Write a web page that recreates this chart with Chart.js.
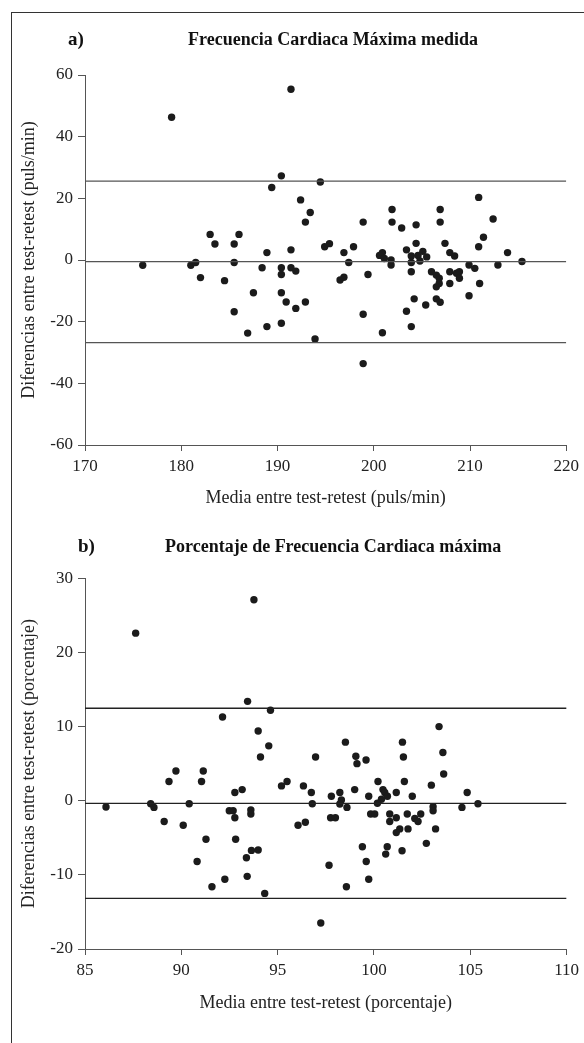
<!DOCTYPE html>
<html>
<head>
<meta charset="utf-8">
<script src="https://cdn.jsdelivr.net/npm/chart.js@4/dist/chart.umd.min.js"></script>
<style>
    body { margin: 0; background: #fff; }
    #frame { position: absolute; left: 11px; top: 12px; width: 600px; height: 1100px; border-left: 1px solid #333; border-top: 1px solid #333; }
    .box { position: absolute; left: 0; width: 584px; }
</style>
</head>
<body>
<div id="frame"></div>
<div class="box" style="top:0;height:520px"><canvas id="chartA"></canvas></div>
<div class="box" style="top:520px;height:523px"><canvas id="chartB"></canvas></div>
<script>
// a) Frecuencia cardiaca maxima medida (puls/min)
const meanA = [176.0, 179.0, 181.0, 181.5, 182.0, 183.0, 183.5, 184.5, 185.5, 185.5, 185.5, 186.0, 186.9, 187.5, 188.4,
    188.9, 188.9, 189.4, 190.4, 190.4, 190.4, 190.4, 190.4, 190.9, 191.4, 191.4, 191.4, 191.9, 191.9, 192.4,
    192.9, 192.9, 193.4, 193.9, 194.45, 194.9, 195.4, 196.5, 196.9, 196.9, 197.4, 197.9, 198.9, 198.9, 198.9,
    199.4, 200.6, 200.9, 200.9, 201.1, 201.8, 201.8, 201.9, 201.9, 202.9, 203.4, 203.4, 203.9, 203.9, 203.9,
    203.9, 204.2, 204.4, 204.4, 204.6, 205.1, 205.5, 204.8, 205.4, 206.0, 206.5, 206.8, 206.8, 206.5, 206.5,
    206.9, 206.9, 206.9, 207.4, 207.9, 208.4, 207.9, 207.9, 208.6, 208.9, 208.9, 209.9, 210.5, 209.9, 210.9,
    210.9, 211.0, 211.4, 212.4, 212.9, 213.9, 215.4];
const diffA = [-1.7, 46.3, -1.7, -0.8, -5.7, 8.3, 5.2, -6.7, 5.2, -0.8, -16.8, 8.3, -23.7, -10.6, -2.5,
    2.4, -21.6, 23.5, 27.3, -2.5, -4.7, -10.6, -20.5, -13.6, 55.4, 3.3, -2.5, -3.6, -15.7, 19.5,
    12.3, -13.6, 15.4, -25.6, 25.3, 4.3, 5.3, -6.5, -5.6, 2.4, -0.8, 4.3, 12.3, -17.6, -33.6,
    -4.7, 1.5, 2.4, -23.6, 0.5, 0.0, -1.6, 16.4, 12.3, 10.4, 3.3, -16.6, 1.3, -0.8, -3.8,
    -21.6, -12.6, 11.4, 5.4, 1.5, 2.8, 1.0, -0.3, -14.6, -3.8, -4.9, -5.9, -7.6, -8.7, -12.6,
    -13.7, 16.4, 12.3, 5.4, 2.4, 1.3, -3.8, -7.6, -4.3, -3.8, -5.9, -1.6, -2.7, -11.6, 20.3,
    4.3, -7.6, 7.4, 13.3, -1.6, 2.4, -0.5];
const limitsA = [25.6, -0.5, -26.8];

// b) Porcentaje de frecuencia cardiaca maxima
const meanB = [86.09, 87.63, 88.41, 88.58, 89.11, 89.36, 89.72, 90.1, 90.41, 90.82, 91.05, 91.14, 91.28, 91.59, 92.14,
    92.26, 92.49, 92.69, 92.78, 92.78, 92.82, 93.16, 93.38, 93.42, 93.44, 93.64, 93.61, 93.61, 93.77, 93.99,
    93.99, 94.11, 94.33, 94.54, 94.63, 95.2, 95.49, 96.06, 96.34, 96.44, 96.75, 96.8, 96.97, 97.24, 97.67,
    97.79, 97.75, 98.0, 98.23, 98.31, 98.23, 98.52, 98.57, 98.6, 99.0, 99.06, 99.12, 99.4, 99.59, 99.6,
    99.73, 99.73, 99.83, 100.04, 100.21, 100.47, 100.56, 100.7, 100.39, 100.18, 100.69, 100.61, 100.82, 100.82, 101.16,
    101.16, 101.34, 101.16, 101.46, 101.48, 101.53, 101.58, 101.73, 101.77, 101.99, 102.12, 102.43, 102.29, 102.72, 102.98,
    103.07, 103.07, 103.2, 103.38, 103.58, 103.62, 104.57, 104.84, 105.4];
const diffB = [-0.85, 22.6, -0.4, -0.9, -2.8, 2.6, 4.0, -3.3, -0.4, -8.2, 2.6, 4.0, -5.2, -11.6, 11.3,
    -10.6, -1.35, -1.35, 1.1, -2.3, -5.2, 1.5, -7.7, -10.2, 13.4, -6.7, -1.25, -1.8, 27.1, 9.4,
    -6.65, 5.9, -12.5, 7.4, 12.2, 2.0, 2.6, -3.3, 2.0, -2.9, 1.1, -0.4, 5.9, -16.5, -8.7,
    0.6, -2.3, -2.3, 1.1, 0.1, -0.45, 7.9, -11.6, -0.9, 1.5, 6.0, 5.0, -6.2, 5.5, -8.2,
    0.6, -10.6, -1.8, -1.8, 2.6, 1.5, 1.1, 0.6, 0.2, -0.35, -6.2, -7.2, -1.8, -2.8, 1.1,
    -2.3, -3.8, -4.3, -6.75, 7.9, 5.9, 2.6, -1.8, -3.8, 0.6, -2.4, -1.8, -2.8, -5.75, 2.1,
    -0.8, -1.35, -3.8, 10.0, 6.5, 3.6, -0.9, 1.1, -0.4];
const limitsB = [12.47, -0.35, -13.17];

const serif = 'Liberation Serif, Times New Roman, serif';

// draws the "a)" label and the bold heading above each plot
const panelText = (label, labelX, title, titleX, y) => ({
    id: 'panelText',
    afterDraw(chart) {
        const ctx = chart.ctx;
        ctx.save();
        ctx.fillStyle = '#111';
        ctx.textBaseline = 'middle';
        ctx.textAlign = 'left';
        ctx.font = 'bold 19px ' + serif;
        ctx.fillText(label, labelX, y);
        ctx.font = 'bold 18px ' + serif;
        ctx.fillText(title, titleX, y);
        ctx.restore();
    }
});

const makeChart = (id, means, diffs, limits, xr, yr, yTitle, xTitle, lineColor, padTop, xHeight, xTitlePad, plugin) => {
    const points = means.map((m, i) => ({ x: m, y: diffs[i] }));
    const lineSets = limits.map(v => ({
        data: [{ x: xr[0], y: v }, { x: xr[1], y: v }],
        showLine: true,
        borderColor: lineColor,
        borderWidth: 1.3,
        pointRadius: 0
    }));
    return new Chart(document.getElementById(id), {
        type: 'scatter',
        data: {
            datasets: [...lineSets, {
                data: points,
                backgroundColor: '#1b1b1b',
                borderColor: '#1b1b1b',
                pointRadius: 3.7,
                pointBorderWidth: 0
            }]
        },
        options: {
            responsive: true,
            maintainAspectRatio: false,
            animation: false,
            layout: { padding: { top: padTop, right: 17, left: 0, bottom: 0 } },
            plugins: { legend: { display: false }, tooltip: { enabled: false } },
            scales: {
                x: {
                    type: 'linear', min: xr[0], max: xr[1],
                    afterFit: s => { s.height = xHeight; },
                    ticks: { stepSize: xr[2], color: '#222', padding: 5, font: { family: serif, size: 17 } },
                    grid: { drawOnChartArea: false, drawTicks: true, tickLength: 6, color: '#555' },
                    border: { color: '#555', width: 1 },
                    title: { display: true, text: xTitle, color: '#222', font: { family: serif, size: 18 }, padding: { top: 0, bottom: xTitlePad } }
                },
                y: {
                    type: 'linear', min: yr[0], max: yr[1],
                    afterFit: s => { s.width = 85; },
                    ticks: { stepSize: yr[2], color: '#222', padding: 5, font: { family: serif, size: 17 } },
                    grid: { drawOnChartArea: false, drawTicks: true, tickLength: 7, color: '#555' },
                    border: { color: '#555', width: 1 },
                    title: { display: true, text: yTitle, color: '#222', font: { family: serif, size: 18 }, padding: { top: 18, bottom: 0 } }
                }
            }
        },
        plugins: [plugin]
    });
};

makeChart('chartA', meanA, diffA, limitsA, [170, 220, 10], [-60, 60, 20],
    'Diferencias entre test-retest (puls/min)', 'Media entre test-retest (puls/min)',
    '#555', 75, 75, 11, panelText('a)', 68, 'Frecuencia Cardiaca Máxima medida', 188, 40));

makeChart('chartB', meanB, diffB, limitsB, [85, 110, 5], [-20, 30, 10],
    'Diferencias entre test-retest (porcentaje)', 'Media entre test-retest (porcentaje)',
    '#222', 58.3, 94, 29, panelText('b)', 78, 'Porcentaje de Frecuencia Cardiaca máxima', 165, 27));
</script>
</body>
</html>
